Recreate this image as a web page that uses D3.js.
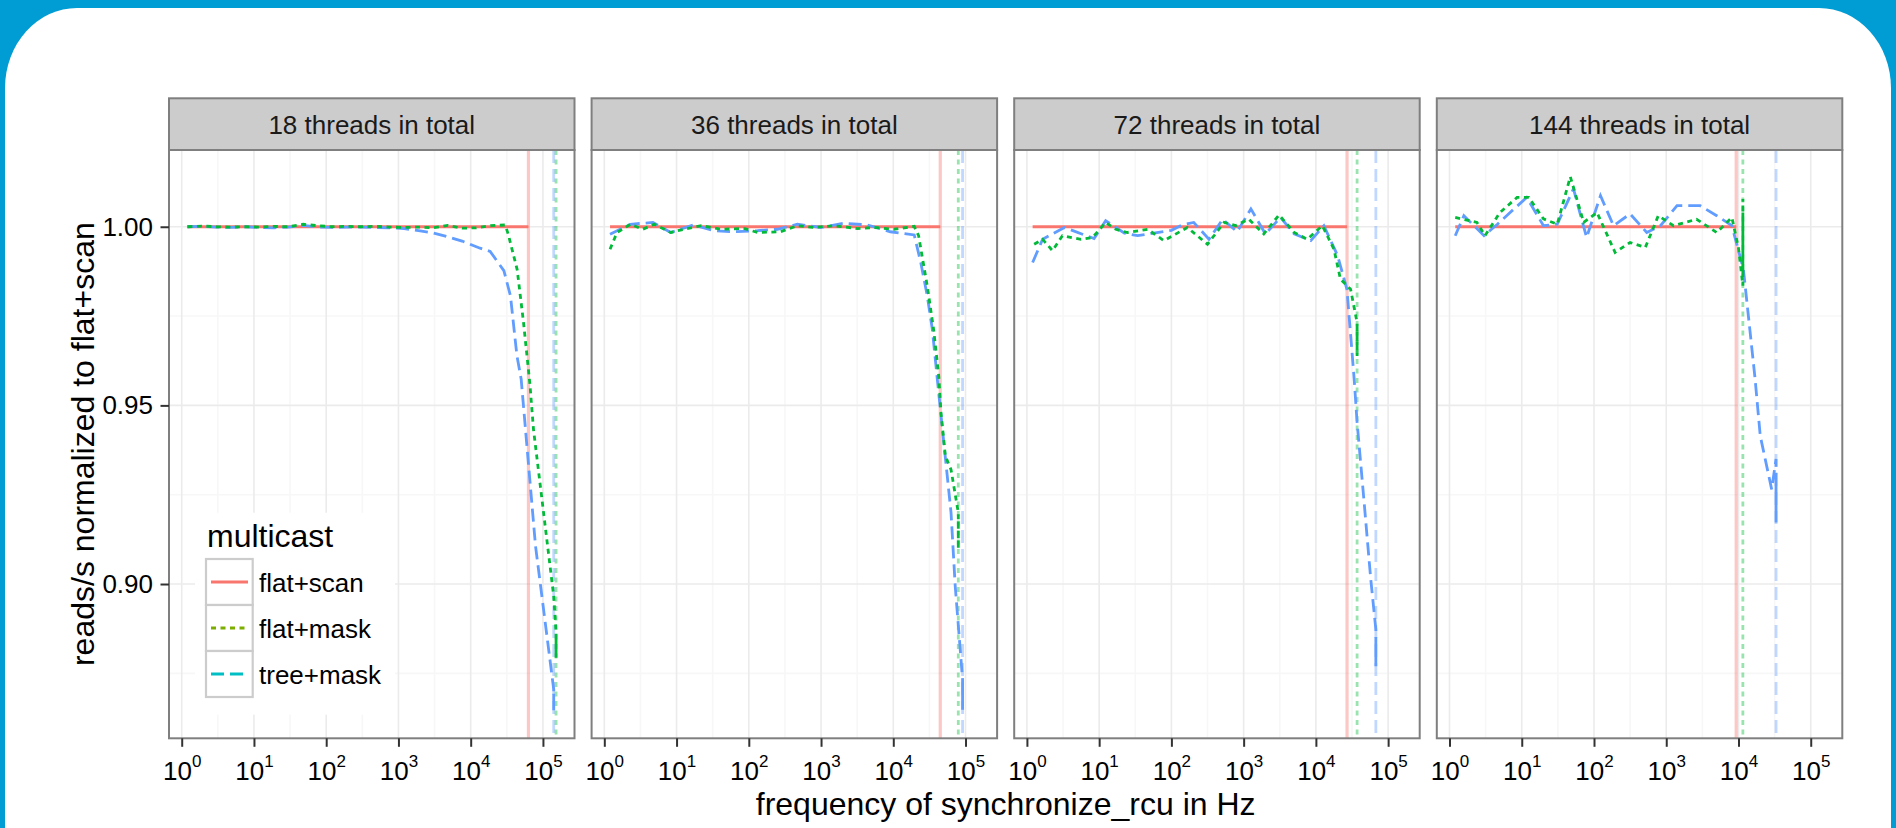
<!DOCTYPE html>
<html lang="en">
<head>
<meta charset="UTF-8">
<title>reads/s vs synchronize_rcu frequency</title>
<script src="https://cdn.jsdelivr.net/npm/d3@7"></script>
<style>
  body { margin: 0; background: #009cd4; }
  svg { display: block; font-family: "Liberation Sans", Arial, Helvetica, sans-serif; }
</style>
</head>
<body>
<div id="chart"></div>
<script>
// facets and series
const panels = ["18 threads in total", "36 threads in total", "72 threads in total", "144 threads in total"];
const seriesNames = ["flat+scan", "flat+mask", "tree+mask"];
const xTicks = [1, 10, 100, 1000, 10000, 100000];
const yTicks = [0.90, 0.95, 1.00];

// [frequency of synchronize_rcu in Hz, reads/s normalized to flat+scan]
const scan18 = [[1.2, 1], [63000, 1]];
const mask18 = [[1.2,1.0000],[1.9,1.0002],[3.0,1.0000],[4.8,0.9999],[7.6,1.0000],[12,0.9999],[19,1.0001],[30,1.0000],[48,1.0007],[76,1.0003],[120,1.0000],[190,1.0001],[300,1.0000],[480,1.0001],[760,0.9999],[1200,0.9998],[1900,0.9999],[3000,0.9997],[4800,1.0004],[7600,0.9996],[12000,0.9997],[19000,1.0003],[30000,1.0005],[33000,0.9980],[44000,0.9880],[54000,0.9730],[66000,0.9560],[74000,0.9433],[102000,0.9200],[141000,0.8966],[152000,0.8864],[152000,0.8789],[152000,0.8850],[152000,0.8800]];
const tree18 = [[1.2,1.0000],[1.9,1.0001],[3.0,0.9999],[4.8,0.9998],[7.6,1.0000],[12,0.9998],[19,0.9997],[30,0.9999],[48,1.0004],[76,0.9999],[120,0.9998],[190,0.9999],[300,0.9999],[480,0.9998],[760,0.9997],[1200,0.9995],[1900,0.9989],[3000,0.9983],[4800,0.9972],[7600,0.9960],[13500,0.9940],[18600,0.9931],[28800,0.9877],[35500,0.9807],[43600,0.9640],[50000,0.9573],[79000,0.9106],[141000,0.8705],[141000,0.8643],[141000,0.8700],[141000,0.8650]];

const scan36 = [[1.2, 1], [44700, 1]];
const mask36 = [[1.2,0.9937],[1.5,0.9984],[2.3,1.0007],[3.4,0.9993],[4.9,1.0007],[8.3,0.9984],[12.6,0.9993],[22,1.0003],[41,0.9993],[87,0.9995],[132,0.9984],[275,0.9986],[470,1.0003],[800,0.9998],[1500,1.0003],[3200,0.9995],[5400,0.9998],[10200,0.9993],[19500,1.0001],[22400,0.9975],[29500,0.9835],[36300,0.9710],[42700,0.9580],[45700,0.9480],[52500,0.9359],[63000,0.9320],[79400,0.9200],[79400,0.9097],[79400,0.9180],[79400,0.9110]];
const tree36 = [[1.2,0.9979],[2.3,1.0007],[4.7,1.0012],[8.3,0.9984],[17,1.0005],[33,0.9989],[63,0.9986],[132,0.9989],[250,0.9993],[470,1.0007],[1000,0.9998],[2100,1.0010],[4400,1.0005],[9100,0.9986],[19500,0.9977],[24000,0.9900],[29500,0.9807],[34700,0.9713],[40700,0.9573],[47900,0.9433],[63000,0.9200],[72000,0.8994],[91000,0.8733],[91000,0.8648],[91000,0.8720],[91000,0.8660]];

const scan72 = [[1.2, 1], [27000, 1]];
const mask72 = [[1.26,0.9951],[1.65,0.9965],[2.26,0.9933],[3.1,0.9975],[5.6,0.9965],[8.1,0.9970],[12.3,1.0012],[17,0.9993],[24.5,0.9984],[46.8,0.9993],[79,0.9961],[166,0.9998],[316,0.9951],[537,1.0012],[776,1.0003],[1175,1.0021],[1900,0.9980],[3090,1.0033],[5000,0.9984],[7600,0.9965],[12300,1.0003],[17800,0.9937],[21900,0.9853],[30200,0.9825],[37200,0.9732],[37200,0.9638],[37200,0.9720],[37200,0.9650]];
const tree72 = [[1.2,0.9900],[1.65,0.9965],[3.3,0.9998],[8.5,0.9967],[12.3,1.0017],[22.4,0.9982],[34,0.9975],[100,0.9990],[141,1.0005],[204,1.0012],[331,0.9965],[513,1.0021],[813,0.9986],[1260,1.0050],[2000,0.9980],[3240,1.0026],[5000,0.9980],[8500,0.9961],[12900,1.0003],[20000,0.9919],[26900,0.9825],[33900,0.9573],[37200,0.9452],[45700,0.9247],[57500,0.9013],[67600,0.8873],[67600,0.8770],[67600,0.8850],[67600,0.8790]];

const scan144 = [[1.2, 1], [9300, 1]];
const mask144 = [[1.2,1.0026],[2.4,1.0012],[3.1,0.9975],[5.0,1.0040],[8.6,1.0082],[12.5,1.0082],[20,1.0022],[31,1.0007],[47,1.0140],[72,1.0012],[110,1.0040],[196,0.9928],[316,0.9956],[513,0.9942],[776,1.0031],[1260,1.0003],[2630,1.0021],[5000,0.9984],[8100,1.0026],[10000,0.9940],[11500,0.9835],[11500,1.0078],[11500,0.9872],[11500,1.0040],[11500,0.9900]];
const tree144 = [[1.2,0.9975],[1.58,1.0031],[3.0,0.9975],[4.6,1.0007],[6.9,1.0040],[11.7,1.0082],[20,1.0003],[31,1.0007],[52,1.0106],[79,0.9970],[123,1.0087],[186,1.0003],[316,1.0036],[537,0.9984],[832,1.0003],[1410,1.0059],[2950,1.0059],[5000,1.0031],[8100,1.0003],[11700,0.9881],[17000,0.9573],[20000,0.9415],[28800,0.9265],[33100,0.9350],[33100,0.9172],[33100,0.9290],[33100,0.9200]];

const panelData = [
  [scan18, mask18, tree18],
  [scan36, mask36, tree36],
  [scan72, mask72, tree72],
  [scan144, mask144, tree144]
];

// styles per series: plot colours (3 levels) and legend colours (as in the original)
const lineColors = ["#F8766D", "#00BA38", "#619CFF"];
const legendColors = ["#F8766D", "#7CAE00", "#00BFC4"];
const dashes = [null, "5,4.5", "13,6"];
const drawOrder = [0, 2, 1]; // red, then blue, green on top

// layout
const width = 1896, height = 828;
const plotLeft = 169, panelW = 405.5, panelGap = 17.1;
const stripTop = 98.3, panelTop = 150, panelBottom = 738.3;

const svg = d3.create("svg")
  .attr("width", width)
  .attr("height", height)
  .attr("viewBox", [0, 0, width, height]);

// white card on blue background
svg.append("rect")
  .attr("x", 5).attr("y", 8)
  .attr("width", 1886).attr("height", 900)
  .attr("rx", 72).attr("ry", 80)
  .attr("fill", "#fff");

// shared scales (ggplot-like 5% expansion)
const allPts = panelData.flat(2);
const lx = d3.extent(allPts, d => Math.log10(d[0]));
const padX = (lx[1] - lx[0]) * 0.05;
const xDomain = [Math.pow(10, lx[0] - padX), Math.pow(10, lx[1] + padX)];
const ye = d3.extent(allPts, d => d[1]);
const padY = (ye[1] - ye[0]) * 0.05;

const y = d3.scaleLinear()
  .domain([ye[0] - padY, ye[1] + padY])
  .range([panelBottom, panelTop]);

// minor breaks halfway between the major ones
const yStep = yTicks[1] - yTicks[0];
const yMinor = [yTicks[0] - yStep / 2, ...yTicks.map(t => t + yStep / 2)]
  .filter(v => v > y.domain()[0] && v < y.domain()[1]);

panels.forEach((title, i) => {
  const x0 = plotLeft + i * (panelW + panelGap);
  const x = d3.scaleLog().domain(xDomain).range([x0, x0 + panelW]);
  const xMinor = [xTicks[0] / Math.sqrt(10), ...xTicks.map(t => t * Math.sqrt(10))]
    .filter(v => v > xDomain[0] && v < xDomain[1]);

  const g = svg.append("g");

  // grid
  g.append("g").attr("stroke", "#F7F7F7").attr("stroke-width", 1.6)
    .call(s => s.selectAll(".vx").data(xMinor).join("line")
      .attr("x1", d => x(d)).attr("x2", d => x(d)).attr("y1", panelTop).attr("y2", panelBottom))
    .call(s => s.selectAll(".hy").data(yMinor).join("line")
      .attr("x1", x0).attr("x2", x0 + panelW).attr("y1", d => y(d)).attr("y2", d => y(d)));
  g.append("g").attr("stroke", "#EBEBEB").attr("stroke-width", 1.6)
    .call(s => s.selectAll(".vx").data(xTicks).join("line")
      .attr("x1", d => x(d)).attr("x2", d => x(d)).attr("y1", panelTop).attr("y2", panelBottom))
    .call(s => s.selectAll(".hy").data(yTicks).join("line")
      .attr("x1", x0).attr("x2", x0 + panelW).attr("y1", d => y(d)).attr("y2", d => y(d)));

  const series = panelData[i];

  // legend background hides the grid in the first panel
  if (i === 0) {
    g.append("rect")
      .attr("x", 195).attr("y", 512.7).attr("width", 200).attr("height", 202)
      .attr("fill", "#fff");
  }

  // vertical markers at the highest frequency of each series
  g.append("g").selectAll("line")
    .data(drawOrder)
    .join("line")
      .attr("x1", k => x(series[k][series[k].length - 1][0]))
      .attr("x2", k => x(series[k][series[k].length - 1][0]))
      .attr("y1", panelTop).attr("y2", panelBottom)
      .attr("stroke", k => lineColors[k])
      .attr("stroke-opacity", 0.4)
      .attr("stroke-width", k => k === 0 ? 3.2 : 2.8)
      .attr("stroke-dasharray", k => dashes[k]);

  // lines
  const line = d3.line().x(d => x(d[0])).y(d => y(d[1]));
  g.append("g").attr("fill", "none").selectAll("path")
    .data(drawOrder)
    .join("path")
      .attr("d", k => line(series[k]))
      .attr("stroke", k => lineColors[k])
      .attr("stroke-width", 2.8)
      .attr("stroke-dasharray", k => dashes[k]);

  // panel border
  g.append("rect")
    .attr("x", x0).attr("y", panelTop).attr("width", panelW).attr("height", panelBottom - panelTop)
    .attr("fill", "none").attr("stroke", "#7F7F7F").attr("stroke-width", 2);

  // strip
  g.append("rect")
    .attr("x", x0).attr("y", stripTop).attr("width", panelW).attr("height", panelTop - stripTop)
    .attr("fill", "#CCCCCC").attr("stroke", "#7F7F7F").attr("stroke-width", 2);
  g.append("text")
    .attr("x", x0 + panelW / 2).attr("y", 134)
    .attr("text-anchor", "middle").attr("font-size", 26).attr("fill", "#1A1A1A")
    .text(title);

  // x axis with 10^k labels
  g.append("g")
    .attr("transform", `translate(0,${panelBottom})`)
    .call(d3.axisBottom(x).tickValues(xTicks).tickSize(8.5).tickSizeOuter(0).tickFormat(() => ""))
    .call(a => a.select(".domain").remove())
    .call(a => a.selectAll(".tick line").attr("stroke", "#333").attr("stroke-width", 2))
    .call(a => a.selectAll(".tick text").remove())
    .call(a => a.selectAll(".tick").append("text")
      .attr("y", 780 - panelBottom).attr("text-anchor", "middle").attr("fill", "#000")
      .attr("font-size", 26)
      .call(t => t.append("tspan").text("10"))
      .call(t => t.append("tspan").attr("dy", -13).attr("font-size", 17)
        .text(d => Math.round(Math.log10(d)))));

  if (i === 0) {
    g.append("g")
      .attr("transform", `translate(${x0},0)`)
      .call(d3.axisLeft(y).tickValues(yTicks).tickSize(8.5).tickPadding(7.5).tickFormat(d3.format(".2f")))
      .call(a => a.select(".domain").remove())
      .call(a => a.selectAll(".tick line").attr("stroke", "#333").attr("stroke-width", 2))
      .call(a => a.selectAll(".tick text").attr("font-size", 26).attr("fill", "#000")
        .attr("font-family", null));
  }
});

// legend
const legend = svg.append("g");
legend.append("text")
  .attr("x", 207).attr("y", 546.7)
  .attr("font-size", 32).attr("fill", "#000")
  .text("multicast");
const keyTop = 559, keyH = 46;
const keys = legend.selectAll("g.key")
  .data(seriesNames)
  .join("g")
    .attr("transform", (d, k) => `translate(0,${keyTop + k * keyH})`);
keys.append("rect")
  .attr("x", 206).attr("y", 0).attr("width", 46.7).attr("height", keyH)
  .attr("fill", "#fff").attr("stroke", "#CCCCCC").attr("stroke-width", 2.2);
keys.append("line")
  .attr("x1", 211).attr("x2", 248).attr("y1", keyH / 2).attr("y2", keyH / 2)
  .attr("stroke", (d, k) => legendColors[k])
  .attr("stroke-width", 2.8)
  .attr("stroke-dasharray", (d, k) => dashes[k]);
keys.append("text")
  .attr("x", 259).attr("y", keyH / 2 + 10)
  .attr("font-size", 26).attr("fill", "#000")
  .text(d => d);

// axis titles
const plotRight = plotLeft + 4 * panelW + 3 * panelGap;
svg.append("text")
  .attr("x", (plotLeft + plotRight) / 2).attr("y", 815)
  .attr("text-anchor", "middle").attr("font-size", 32).attr("fill", "#000")
  .text("frequency of synchronize_rcu in Hz");
svg.append("text")
  .attr("transform", `translate(94,${(panelTop + panelBottom) / 2}) rotate(-90)`)
  .attr("text-anchor", "middle").attr("font-size", 32).attr("fill", "#000")
  .text("reads/s normalized to flat+scan");

document.getElementById("chart").appendChild(svg.node());
</script>
</body>
</html>
